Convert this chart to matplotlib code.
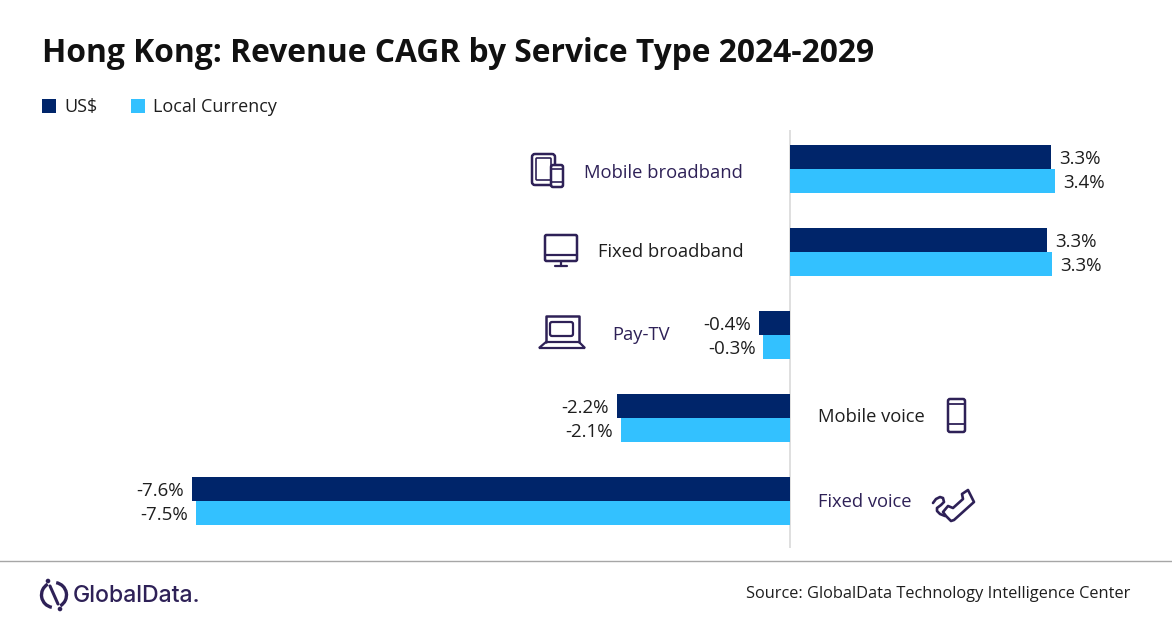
import matplotlib
matplotlib.use("Agg")
import matplotlib.pyplot as plt
from matplotlib.patches import FancyBboxPatch, Arc, Polygon, Circle

# --- data ---
categorias = ["Mobile broadband", "Fixed broadband", "Pay-TV", "Mobile voice", "Fixed voice"]
valores_usd = [3.32, 3.27, -0.40, -2.20, -7.60]
valores_local = [3.37, 3.33, -0.34, -2.15, -7.55]
etiquetas_usd = ["3.3%", "3.3%", "-0.4%", "-2.2%", "-7.6%"]
etiquetas_local = ["3.4%", "3.3%", "-0.3%", "-2.1%", "-7.5%"]

AZUL = "#00256A"
CELESTE = "#33C1FF"
MORADO = "#2E2157"
NEGRO = "#1E1E1E"
FUENTE = "Open Sans"

plt.rcParams["font.family"] = [FUENTE, "DejaVu Sans"]

W, H = 1172, 628
fig = plt.figure(figsize=(W / 100, H / 100), dpi=100, facecolor="white")

# Escala del grafico: 78.7 px por punto porcentual, cero en x=790
PX_X = 78.7
PX_Y = 83
ax = fig.add_axes([0, (H - 548) / H, 1, (548 - 130) / H])
ax.set_xlim(-790 / PX_X, (W - 790) / PX_X)
ax.set_ylim((548 - 169) / PX_Y, (130 - 169) / PX_Y)
ax.axis("off")
ax.patch.set_alpha(0)

alto = 24 / PX_Y
posiciones = range(len(categorias))
barras_usd = ax.barh([p - alto / 2 for p in posiciones], valores_usd, height=alto, color=AZUL, label="US$")
barras_local = ax.barh([p + alto / 2 for p in posiciones], valores_local, height=alto, color=CELESTE, label="Local Currency")
ax.axvline(0, color="#D9D9D9", lw=1.2, zorder=0)


# Etiquetas de valor junto al extremo de cada barra
def etiquetar(barras, valores, etiquetas):
    for barra, v, txt in zip(barras, valores, etiquetas):
        y = barra.get_y() + barra.get_height() / 2
        signo = 1 if v >= 0 else -1
        ax.annotate(txt, (v, y), xytext=(signo * 5.5, -1.5), textcoords="offset points",
                    ha="left" if v >= 0 else "right", va="center", fontsize=13.5, color=NEGRO)


etiquetar(barras_usd, valores_usd, etiquetas_usd)
etiquetar(barras_local, valores_local, etiquetas_local)

# --- capa en pixeles para textos e iconos ---
capa = fig.add_axes([0, 0, 1, 1])
capa.set_xlim(0, W)
capa.set_ylim(H, 0)
capa.axis("off")
capa.patch.set_alpha(0)

capa.text(42, 53, "Hong Kong: Revenue CAGR by Service Type 2024-2029", fontsize=22.9,
          fontweight="bold", color="#111111", va="center", ha="left")

fig.legend(handles=[barras_usd, barras_local], loc="upper left", bbox_to_anchor=(42 / W, 1 - 98 / H),
           ncols=2, frameon=False, fontsize=13, handlelength=0.78, handleheight=0.78,
           handletextpad=0.45, columnspacing=1.85, borderaxespad=0, borderpad=0, labelcolor=NEGRO)

# Nombres de categoria
colores_cat = [MORADO, NEGRO, MORADO, NEGRO, MORADO]
x_cat = [743, 744, 670, 818, 818]
ha_cat = ["right", "right", "right", "left", "left"]
y_cat = [173, 252, 335, 417, 502]
for nombre, c, x, ha, y in zip(categorias, colores_cat, x_cat, ha_cat, y_cat):
    capa.text(x, y, nombre, fontsize=13.25, color=c, ha=ha, va="center")


def caja(x0, y0, x1, y1, radio=2, lw=1.8):
    capa.add_patch(FancyBboxPatch((x0, y0), x1 - x0, y1 - y0, boxstyle=f"round,pad=0,rounding_size={radio}",
                                  fill=False, ec=MORADO, lw=lw))


def linea(xs, ys, lw=1.6):
    capa.plot(xs, ys, color=MORADO, lw=lw, solid_capstyle="round", solid_joinstyle="round")


# Tablet + movil
caja(532, 154, 555, 185, 3)
caja(536, 158, 551, 180, 1, 1.2)
capa.add_patch(FancyBboxPatch((551, 165), 12, 22, boxstyle="round,pad=0,rounding_size=2", fc="white", ec=MORADO, lw=1.8))
linea([551, 563], [169, 169], 1.2)
linea([551, 563], [182, 182], 1.2)

# Monitor
caja(545, 235, 577, 261, 1.5)
linea([545, 577], [255, 255])
linea([561, 561], [262, 266])
linea([555, 567], [266, 266])

# Portatil
linea([546, 546, 579, 579], [342, 316, 316, 342], 1.8)
caja(550, 322, 573, 336, 2, 1.6)
capa.add_patch(Polygon([(546, 342), (579, 342), (585, 348), (539, 348)], closed=True, fill=False, ec=MORADO, lw=1.6))

# Movil
caja(948, 399, 965, 432, 2)
linea([948, 965], [404, 404], 1.3)
linea([948, 965], [424, 424], 1.3)

# Telefono fijo
capa.add_patch(Polygon([(946, 516), (951, 521), (954, 520), (974, 502), (968, 490), (962, 494),
                        (963, 499), (953, 508), (948, 506), (943, 512)],
                       closed=True, fill=False, ec=MORADO, lw=1.9, joinstyle="round"))
linea([933, 936, 940, 943, 944, 941, 937, 937, 940, 945], [503, 499, 497, 498, 502, 505, 508, 511, 514, 516], 1.9)

# --- pie ---
capa.plot([0, W], [561, 561], color="#A6A6A6", lw=1)

# Logo
capa.add_patch(Arc((54, 595), 25, 25, theta1=-80, theta2=60, ec=MORADO, lw=2.4))
capa.add_patch(Arc((54, 595), 25, 25, theta1=100, theta2=240, ec=MORADO, lw=2.4))
linea([50, 58], [586, 604], 2.2)
capa.add_patch(Circle((48, 581), 1.6, color=MORADO))
capa.add_patch(Circle((60, 609), 1.6, color=MORADO))
capa.text(73, 596, "GlobalData.", fontsize=16.6, color=MORADO, family="Inter", fontweight="medium", va="center", ha="left")

capa.text(1130, 594, "Source: GlobalData Technology Intelligence Center", fontsize=11.75, color=NEGRO, ha="right", va="center")

fig.savefig("out.png", dpi=100)
